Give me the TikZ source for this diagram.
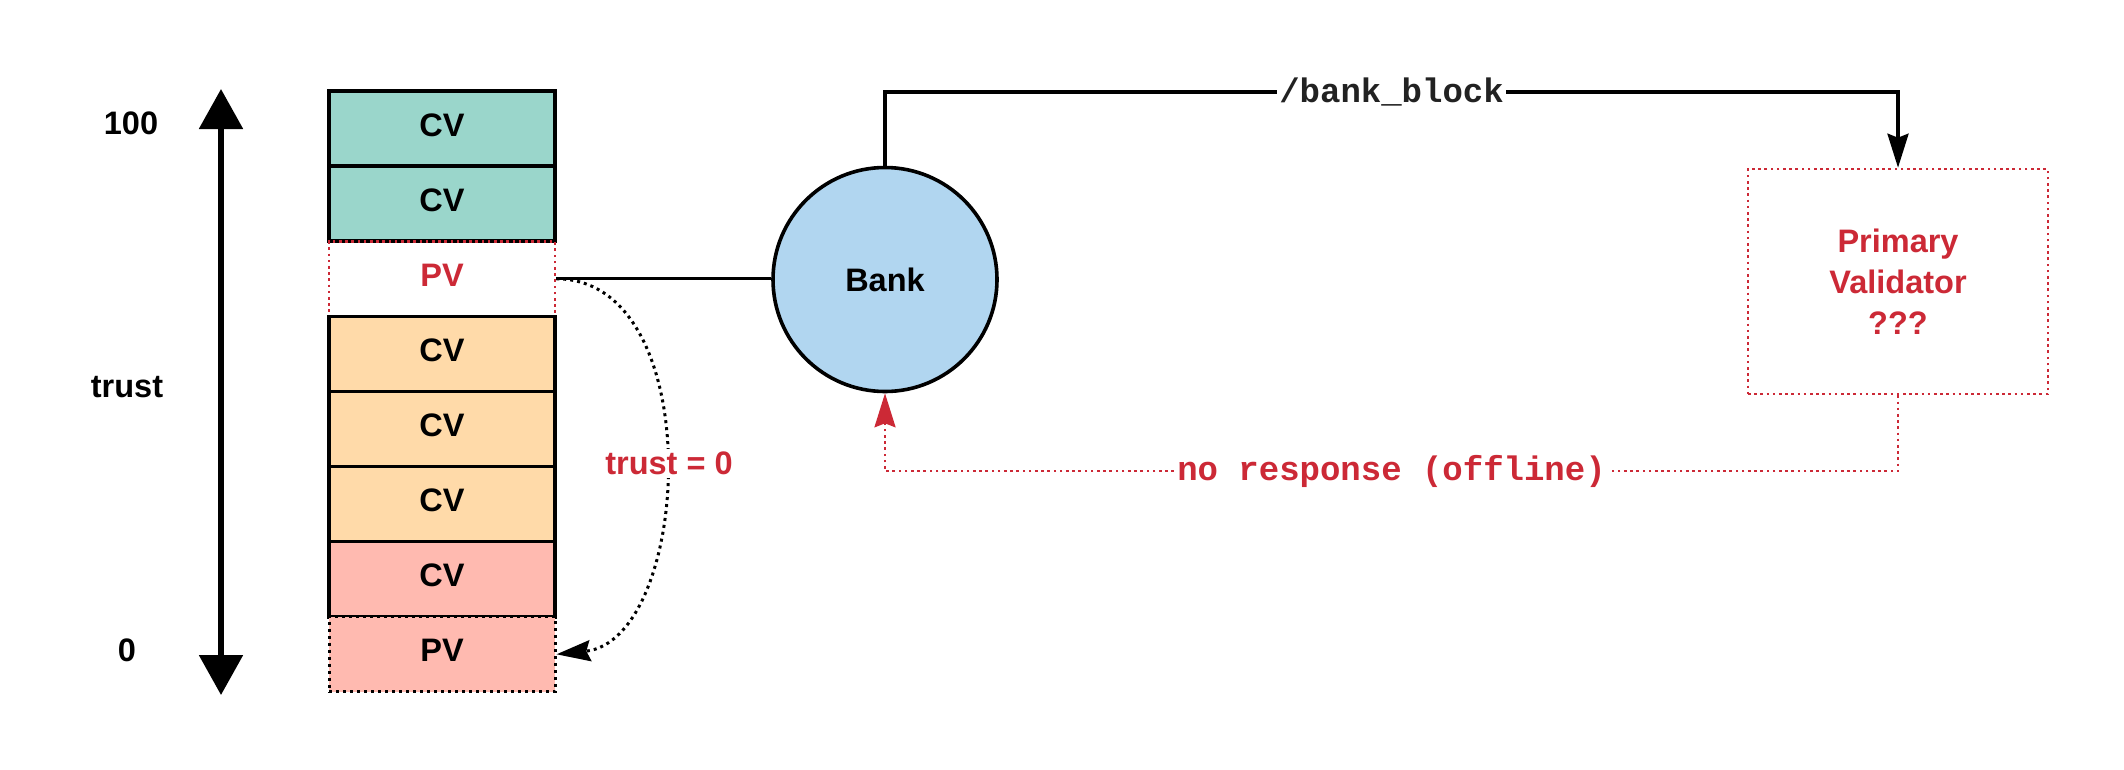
\documentclass[tikz,border=0pt]{standalone}
\usepackage{fontspec}
\setmainfont{Liberation Sans}
\setmonofont{Liberation Mono}
\usetikzlibrary{arrows.meta}
\definecolor{tealc}{HTML}{9AD6CB}
\definecolor{orangec}{HTML}{FFDAA9}
\definecolor{pinkc}{HTML}{FFBAB0}
\definecolor{bluec}{HTML}{B1D6F0}
\definecolor{redc}{HTML}{CC2936}
\definecolor{monoc}{HTML}{222222}
\begin{document}
\begin{tikzpicture}[x=1pt,y=-1pt,
  font=\fontsize{32.5}{41}\selectfont\bfseries,
  cell/.style={draw=black, line width=3.6pt, minimum width=226pt, minimum height=75.1pt, inner sep=0pt, text height=23.3pt, text depth=8pt},
  reddots/.style={draw=redc, line width=2.6pt, dash pattern=on 2.6pt off 3.6pt},
  blackdots/.style={draw=black, line width=3pt, dash pattern=on 3pt off 4pt},
  tipsmall/.style={-{Stealth[width=21pt,length=34pt,inset=4pt]}},
  monolabel/.style={font=\fontsize{34}{41}\selectfont\ttfamily\bfseries, fill=white, inner sep=2pt}]
\useasboundingbox[fill=white] (0,0) rectangle (2124,769);

% trust scale
\node (l100) at (131,123) {100};
\node (ltrust) at (127,387) {trust};
\node (lzero) at (127,650) {0};
\coordinate (atop) at (221,89);
\coordinate (abot) at (221,695);
\draw[line width=5.5pt, {Triangle[width=43pt,length=40pt]}-{Triangle[width=43pt,length=40pt]}] (atop) -- (abot);

% stack
\node[cell, fill=tealc] (cv1) at (442,128.6) {CV};
\node[cell, fill=tealc] (cv2) at (442,203.7) {CV};
\node[cell, reddots, text=redc] (pv) at (442,278.8) {PV};
\node[cell, fill=orangec] (cv3) at (442,353.9) {CV};
\node[cell, fill=orangec] (cv4) at (442,429.0) {CV};
\node[cell, fill=orangec] (cv5) at (442,504.1) {CV};
\node[cell, fill=pinkc] (cv6) at (442,579.2) {CV};
\node[cell, fill=pinkc, blackdots] (pv2) at (442,654.3) {PV};

% bank and primary validator
\node[circle, draw=black, line width=3.6pt, fill=bluec, minimum size=224pt, inner sep=0pt] (bank) at (885,279.5) {Bank};
\node[reddots, minimum width=300pt, minimum height=225pt, text=redc, align=center] (pvv) at (1898,281.5) {Primary\\Validator\\???};

% connectors
\draw[line width=3.2pt] (pv.east) -- (pv.east -| bank.west);

\coordinate (t1) at (885,92);
\coordinate (t2) at (1898,92);
\draw[line width=3.4pt, tipsmall] (bank.north) -- (t1) -- node[monolabel, text=monoc] (lbl1) {/bank\_block} (t2) -- (pvv.north);

\coordinate (b1) at (1898,471);
\coordinate (b2) at (885,471);
\draw[reddots, tipsmall, fill=none] (pvv.south) -- (b1) -- node[monolabel, text=redc] (lbl2) {no response (offline)} (b2) -- (bank.south);

\draw[blackdots, tipsmall] (pv.east) .. controls (710,279) and (692,640) .. (pv2.east);
\node[fill=white, text=redc, inner sep=3pt] (lbl3) at (669,463) {trust = 0};
\end{tikzpicture}
\end{document}
